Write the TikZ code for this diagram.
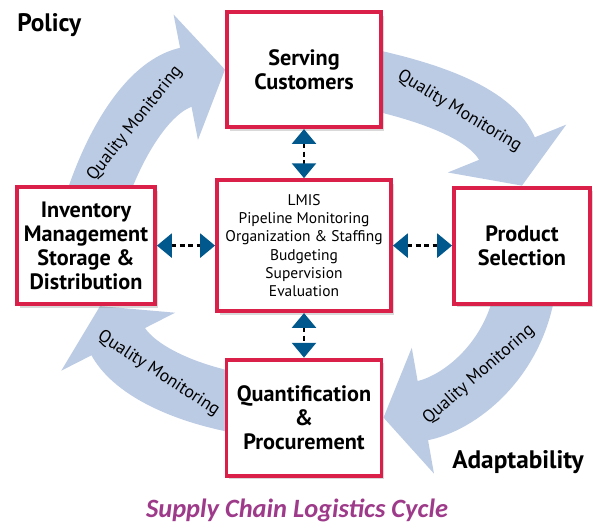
\documentclass[tikz,border=0pt]{standalone}
\usepackage{fontspec}
\setmainfont{PT Sans}
\newfontfamily\captionfont{Carlito}
\usepackage{tikz}
\usetikzlibrary{arrows.meta}
\usetikzlibrary{shadows,backgrounds}
\usetikzlibrary{positioning}
\definecolor{boxred}{RGB}{218,32,72}
\definecolor{flowblue}{RGB}{188,203,228}
\definecolor{tipblue}{RGB}{0,88,140}
\definecolor{cyclepurple}{RGB}{158,58,138}
\tikzstyle{stage} = [rectangle, minimum width=3.45cm, minimum height=2.925cm, text centered, align=center, draw=boxred, line width=2.8pt, fill=white, font=\bfseries\fontsize{15.8}{17}\selectfont, drop shadow={opacity=0.3, shadow xshift=2pt, shadow yshift=-2.5pt}]
\tikzstyle{core} = [stage, minimum width=4.35cm, minimum height=3.275cm, font=\fontsize{11}{13}\selectfont]
\tikzstyle{link} = [line width=1.6pt, dash pattern=on 3.5pt off 2.5pt, {Triangle[width=0.6cm,length=0.37cm,color=tipblue]}-{Triangle[width=0.6cm,length=0.37cm,color=tipblue]}]
\tikzstyle{flow} = [line width=1.5cm, draw=flowblue, -{Triangle[width=3.15cm,length=1.0cm]}]
\tikzstyle{flowtext} = [sloped, font=\fontsize{12.5}{12.5}\selectfont]
\tikzstyle{corner} = [inner sep=0pt, font=\bfseries\fontsize{18}{18}\selectfont]
\begin{document}
\begin{tikzpicture}[node distance = 4.4cm]
						\useasboundingbox (-7.6,-6.99) rectangle (7.45,6.14);
						\node (hub) [core] {LMIS\\Pipeline Monitoring\\Organization \& Staffing\\Budgeting\\Supervision\\Evaluation};
						\node (serve) [stage, above of=hub, minimum width=3.85cm, minimum height=2.875cm] {Serving\\Customers};
						\node (quant) [stage, below of=hub, yshift=0.1cm, minimum width=3.875cm, minimum height=2.9cm] {Quantification\\\&\\Procurement};
						\node (stock) [stage, left of=hub, xshift=-1.05cm] {Inventory\\Management\\Storage \&\\Distribution};
						\node (select) [stage, right of=hub, xshift=1.05cm, minimum width=3.4cm, minimum height=2.9cm] {Product\\Selection};
						\node (policy) [corner, anchor=base west] at (-7.175,5.34) {Policy};
						\node (adapt) [corner, anchor=base west] at (3.7,-5.56) {Adaptability};
						\node (title) [anchor=base, text=cyclepurple, font=\captionfont\bfseries\itshape\fontsize{18.8}{18.8}\selectfont] at (-0.175,-6.79) {Supply Chain Logistics Cycle};
						\draw [link] (serve) -- (hub);
						\draw [link] (hub) -- (quant);
						\draw [link] (stock) -- (hub);
						\draw [link] (hub) -- (select);
						\begin{pgfonlayer}{background}
						\draw [flow] ([xshift=0.2cm, yshift=-0.5cm]stock.north) to[out=72, in=191] node [flowtext, pos=0.45] {Quality Monitoring} (serve.west);
						\draw [flow] ([xshift=-0.5cm, yshift=-0.2cm]serve.east) to[out=-12, in=112] node [flowtext] {Quality Monitoring} (select.north);
						\draw [flow] ([xshift=0.1cm, yshift=0.5cm]select.south) to[out=262, in=10] node [flowtext] {Quality Monitoring} (quant.east);
						\draw [flow] ([xshift=0.5cm, yshift=0.33cm]quant.west) to[out=170, in=297] node [flowtext] {Quality Monitoring} ([xshift=0.35cm]stock.south);
						\end{pgfonlayer}
					\end{tikzpicture}
\end{document}
